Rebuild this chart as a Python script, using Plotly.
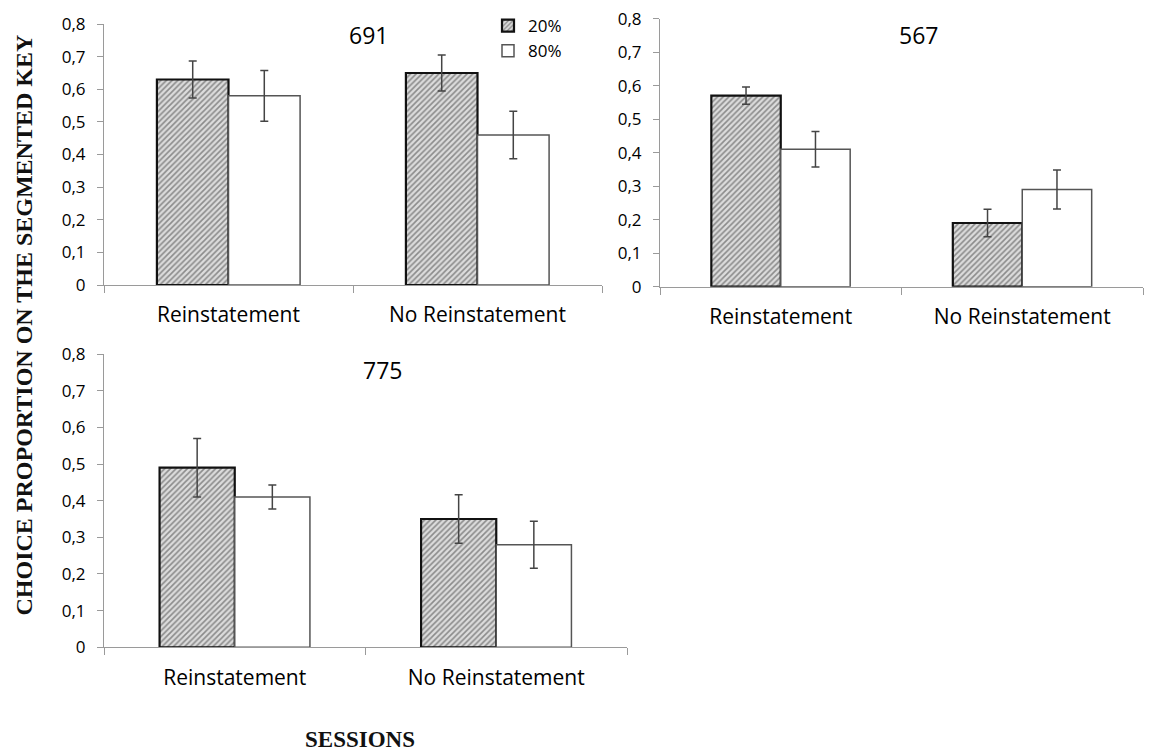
import plotly.graph_objects as go

categories = ["Reinstatement", "No Reinstatement"]
series_names = ["20%", "80%"]
panel_titles = ["691", "567", "775"]

# panel 691
p691_20 = [0.63, 0.65]
p691_20_err = [0.057, 0.055]
p691_80 = [0.58, 0.46]
p691_80_err = [0.078, 0.073]
# panel 567
p567_20 = [0.57, 0.19]
p567_20_err = [0.026, 0.041]
p567_80 = [0.41, 0.29]
p567_80_err = [0.053, 0.058]
# panel 775
p775_20 = [0.49, 0.35]
p775_20_err = [0.080, 0.066]
p775_80 = [0.41, 0.28]
p775_80_err = [0.033, 0.064]

y_tickvals = [0, 0.1, 0.2, 0.3, 0.4, 0.5, 0.6, 0.7, 0.8]
y_ticktext = ["0", "0,1", "0,2", "0,3", "0,4", "0,5", "0,6", "0,7", "0,8"]

# the page body has an 8px margin: size the figure to fit and shift coordinates
OFF = 8
W, H = 1164 - OFF, 752 - OFF
SANS = "Open Sans, Noto Sans, sans-serif"
SERIF = "Liberation Serif, Times New Roman, serif"
YTICKFONT = dict(family=SANS, size=17, color="#000")
XTICKFONT = dict(family=SANS, size=21, color="#000")

panels = [
    ("x", "y", p691_20, p691_20_err, p691_80, p691_80_err, True),
    ("x2", "y2", p567_20, p567_20_err, p567_80, p567_80_err, False),
    ("x3", "y3", p775_20, p775_20_err, p775_80, p775_80_err, False),
]

fig = go.Figure()
for xa, ya, v20, e20, v80, e80, show in panels:
    fig.add_trace(go.Bar(
        x=categories, y=v20, name=series_names[0], xaxis=xa, yaxis=ya,
        legendgroup="a", showlegend=show,
        marker=dict(color="#d9d9d9",
                    pattern=dict(shape="/", fgcolor="#3a3a3a", bgcolor="#dcdcdc", size=4, solidity=0.4),
                    line=dict(color="#111", width=2.2)),
        error_y=dict(type="data", array=e20, color="#444", thickness=1.5, width=4),
    ))
    fig.add_trace(go.Bar(
        x=categories, y=v80, name=series_names[1], xaxis=xa, yaxis=ya,
        legendgroup="b", showlegend=show,
        marker=dict(color="white", line=dict(color="#555", width=1.5)),
        error_y=dict(type="data", array=e80, color="#444", thickness=1.5, width=4),
    ))

def xdom(a, b):
    return [(a - OFF) / W, (b - OFF) / W]

def ydom(top_px, bottom_px):
    return [1 - (bottom_px - OFF) / H, 1 - (top_px - OFF) / H]

def px(xp):
    return (xp - OFF) / W

def py(yp):
    return 1 - (yp - OFF) / H

xdoms = [xdom(104, 602), xdom(660, 1143), xdom(104, 627)]
ydoms = [ydom(24, 285), ydom(18.5, 286.7), ydom(354, 647.3)]

layout = dict(
    width=W, height=H, autosize=False,
    margin=dict(l=0, r=0, t=0, b=0, autoexpand=False),
    paper_bgcolor="white", plot_bgcolor="white",
    barmode="group", bargap=0.425, bargroupgap=0,
    showlegend=True,
    legend=dict(x=px(488), y=py(8), xanchor="left", yanchor="top",
                font=dict(family=SANS, size=17, color="#000"),
                bgcolor="rgba(0,0,0,0)", itemwidth=30, tracegroupgap=0),
)
names = ["", "2", "3"]
for i, n in enumerate(names):
    layout["xaxis" + n] = dict(
        domain=xdoms[i], anchor="y" + n, type="category", automargin=False,
        showline=True, linecolor="#9a9a9a", linewidth=1.2,
        ticks="outside", tickson="boundaries", ticklen=7, tickcolor="#9a9a9a",
        ticklabelstandoff=11,
        showgrid=False, tickfont=XTICKFONT, zeroline=False,
    )
    layout["yaxis" + n] = dict(
        domain=ydoms[i], anchor="x" + n, range=[0, 0.8002], automargin=False,
        tickvals=y_tickvals, ticktext=y_ticktext, ticklabeloverflow="allow",
        showline=True, linecolor="#9a9a9a", linewidth=1.2,
        ticks="outside", ticklen=6, tickcolor="#9a9a9a", ticklabelstandoff=8,
        showgrid=False, zeroline=False, tickfont=YTICKFONT,
    )
fig.update_layout(**layout)

title_pos = [(368, 35), (918, 35), (382, 370)]
for t, (tx, ty) in zip(panel_titles, title_pos):
    fig.add_annotation(text=t, x=px(tx), y=py(ty), xref="paper", yref="paper",
                       showarrow=False, xanchor="center", yanchor="middle",
                       font=dict(family=SANS, size=23, color="#000"))

fig.add_annotation(text="<b>CHOICE PROPORTION ON THE SEGMENTED KEY</b>",
                   x=px(23.5), y=py(325), xref="paper", yref="paper", textangle=-90,
                   showarrow=False, xanchor="center", yanchor="middle",
                   font=dict(family=SERIF, size=24, color="#111"))
fig.add_annotation(text="<b>SESSIONS</b>",
                   x=px(360), y=py(739), xref="paper", yref="paper",
                   showarrow=False, xanchor="center", yanchor="middle",
                   font=dict(family=SERIF, size=23, color="#111"))

fig.write_html("out.html")
